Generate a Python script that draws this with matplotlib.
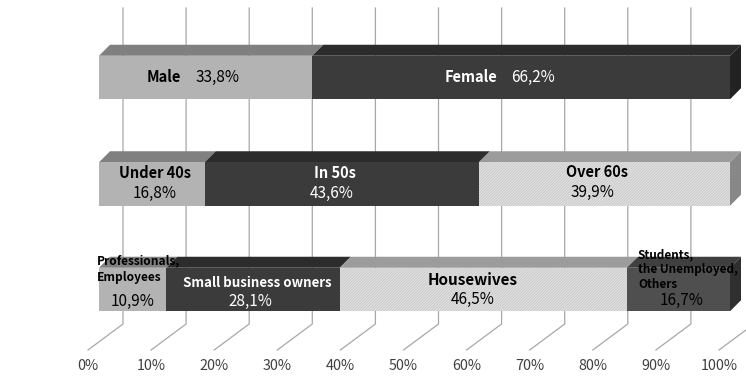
import numpy as np
import matplotlib.pyplot as plt
from matplotlib.patches import Polygon

plt.rcParams['font.family'] = ['Noto Sans CJK KR', 'DejaVu Sans']
plt.rcParams['hatch.linewidth'] = 0.45

# data
categories = ['Gender', 'Age', 'Occupation']
gender_labels = ['Male', 'Female']
gender_values = [33.8, 66.2]
age_labels = ['Under 40s', 'In 50s', 'Over 60s']
age_values = [16.8, 43.6, 39.9]
occupation_labels = ['Professionals,\nEmployees', 'Small business owners',
                     'Housewives', 'Students,\nthe Unemployed,\nOthers']
occupation_values = [10.9, 28.1, 46.5, 16.7]
tick_values = np.arange(0, 101, 10)

rows = [(gender_labels, gender_values, ['light', 'dark']),
        (age_labels, age_values, ['light', 'dark', 'hatch']),
        (occupation_labels, occupation_values, ['light', 'dark', 'hatch', 'mid'])]

styles = {
    'light': dict(front='#b3b3b3', top='#808080', side='#7a7a7a', text='black', hatch=None),
    'dark': dict(front='#3b3b3b', top='#2c2c2c', side='#222222', text='white', hatch=None),
    'hatch': dict(front='#e0e0e0', top='#9c9c9c', side='#888888', text='black', hatch='/' * 12),
    'mid': dict(front='#4f4f4f', top='#3f3f3f', side='#2f2f2f', text='black', hatch=None),
}

# layout (pixels)
W, H = 746, 378
SCALE = 6.31          # px per percent
X0 = 99               # bar front face 0%
DEPTH = 11            # bar depth (45 deg)
BACK = 24             # back wall offset from bar front
FLOOR = 11            # floor front offset from bar front
row_y = [77.5, 184.0, 289.5]
half_h = 21.75

# text offsets from segment centre (px): (name dx, name dy, value dx, value dy)
label_pos = [
    [(-25, 0, -10, 0), (-24, 0, -10, 0)],
    [(3, -11, 3, 9), (-7, -11, -10, 9), (-7, -12, -12, 8)],
    [(None, -20.5, 0, 11.5), (4, -6.5, -3, 11.5), (-11, -9.5, -11, 9.5), (None, -20, 3.5, 11)],
]
name_size = [[10.5, 10.5], [10.5, 10.5, 10.5], [8.6, 9.6, 11, 8.5]]
name_spacing = [1.4, 1.0, 1.0, 1.2]
cat_x = [51, 64.5, 45.5]


def dx(px):
    return px / SCALE


fig = plt.figure(figsize=(W / 100, H / 100), dpi=100)
ax = fig.add_axes([0, 0, 1, 1])
ax.set_xlim(-X0 / SCALE, (W - X0) / SCALE)
ax.set_ylim(H, 0)
ax.axis('off')

# gridlines: back wall verticals + floor diagonals
for p in tick_values:
    xb = p + dx(BACK)
    xf = p - dx(FLOOR)
    ax.plot([xb, xb, xf], [8, 324, 350], color='#a8a8a8', lw=0.9, zorder=1)
    ax.text(xf, 366, f'{p}%', ha='center', va='center', fontsize=10.3, color='#404040')

for i, (labels, values, kinds) in enumerate(rows):
    yc = row_y[i]
    top, bot = yc - half_h, yc + half_h
    total = sum(values)
    shares = np.array(values) / total * 100
    starts = np.concatenate([[0], np.cumsum(shares)[:-1]])
    d = dx(DEPTH)
    ax.text(cat_x[i], yc, categories[i], ha='center', va='center',
            fontsize=11, fontweight='bold', color='black')
    for j, (p0, w) in enumerate(zip(starts, shares)):
        p1 = p0 + w
        st = styles[kinds[j]]
        hc = '#c2c2c2' if st['hatch'] else 'none'
        front = Polygon([(p0, top), (p1, top), (p1, bot), (p0, bot)], closed=True,
                        facecolor=st['front'], edgecolor=hc, lw=0, hatch=st['hatch'], zorder=3)
        ax.add_patch(front)
        topf = Polygon([(p0, top), (p1, top), (p1 + d, top - DEPTH), (p0 + d, top - DEPTH)],
                       closed=True, facecolor=st['top'], edgecolor='none', zorder=2)
        ax.add_patch(topf)
        if j == len(values) - 1:
            side = Polygon([(p1, top), (p1 + d, top - DEPTH), (p1 + d, bot - DEPTH), (p1, bot)],
                           closed=True, facecolor=st['side'], edgecolor='none', zorder=2)
            ax.add_patch(side)

        cx = p0 + w / 2
        ndx, ndy, vdx, vdy = label_pos[i][j]
        val = f'{values[j]:.1f}%'.replace('.', ',')
        col = st['text']
        if i == 0:
            ax.text(cx + dx(ndx), yc + ndy, labels[j], ha='right', va='center',
                    fontsize=name_size[i][j], fontweight='bold', color=col, zorder=5)
            ax.text(cx + dx(vdx), yc + vdy, val, ha='left', va='center',
                    fontsize=11, color=col, zorder=5)
        else:
            if ndx is None:
                ax.text(p0 - dx(2) if j == 0 else p0 + dx(11), yc + ndy, labels[j],
                        ha='left', va='center', fontsize=name_size[i][j],
                        fontweight='bold', color=col, zorder=5, linespacing=name_spacing[j])
            else:
                ax.text(cx + dx(ndx), yc + ndy, labels[j], ha='center', va='center',
                        fontsize=name_size[i][j], fontweight='bold', color=col, zorder=5)
            ax.text(cx + dx(vdx), yc + vdy, val, ha='center', va='center',
                    fontsize=11, color=col, zorder=5)

fig.savefig('out.png', dpi=100)
